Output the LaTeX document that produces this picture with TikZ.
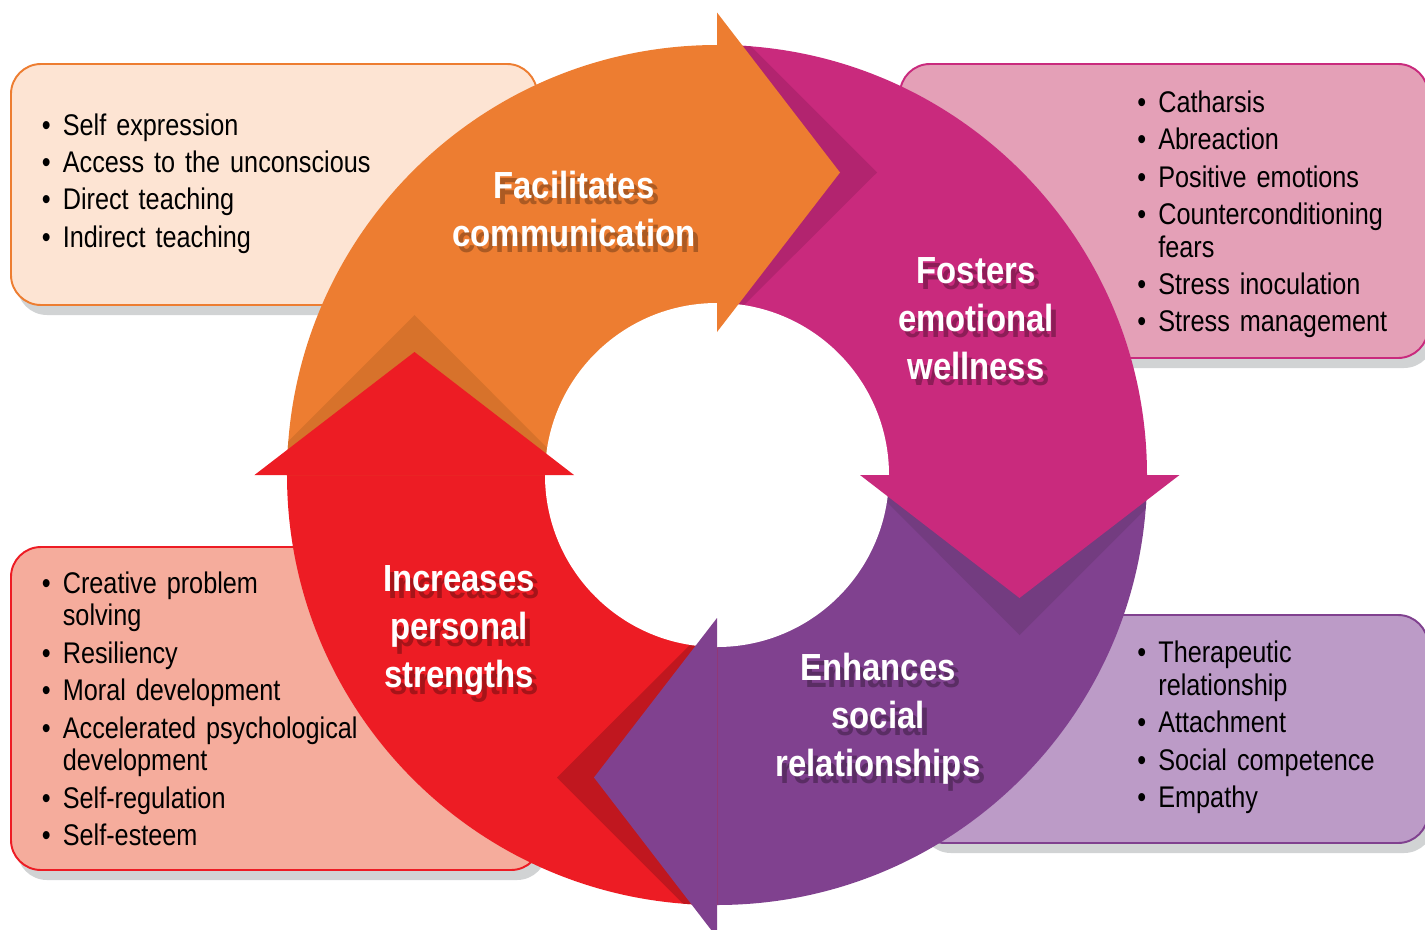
\documentclass[tikz,border=0pt]{standalone}
\usepackage{fontspec}
\setmainfont{Liberation Sans}[FakeStretch=0.845]
\newfontfamily\titlefont{Liberation Sans}[FakeStretch=0.87]
\usepackage{tikz}
\usetikzlibrary{calc}

\definecolor{orangeseg}{HTML}{ED7D31}
\definecolor{magentaseg}{HTML}{C92A7D}
\definecolor{purpleseg}{HTML}{80418F}
\definecolor{redseg}{HTML}{ED1C24}
\definecolor{orangedark}{HTML}{D7722B}
\definecolor{magentadark}{HTML}{B2246F}
\definecolor{purpledark}{HTML}{733C80}
\definecolor{reddark}{HTML}{C0171F}
\definecolor{orangebox}{HTML}{FDE4D3}
\definecolor{magentabox}{HTML}{E4A0B7}
\definecolor{purplebox}{HTML}{BC9BC7}
\definecolor{redbox}{HTML}{F5AC9C}
\definecolor{boxshadow}{HTML}{D1D3D4}

\newcommand{\bul}[1]{\makebox[0.42cm][l]{\textbullet}#1}
\newcommand{\cont}[1]{\hspace*{0.42cm}#1}

\begin{document}
\begin{tikzpicture}
  \tikzstyle{infobox}=[rounded corners=0.6cm,line width=1.1pt]
  \tikzstyle{boxshade}=[fill=boxshadow,rounded corners=0.6cm]
  \tikzstyle{listtext}=[anchor=base west,inner sep=0pt,text width=7cm,align=left,
    font=\fontsize{17}{18.5}\selectfont]
  \tikzstyle{steptitle}=[anchor=base,inner sep=0pt,text width=6cm,align=center,
    font=\titlefont\bfseries\fontsize{21.5}{27.3}\selectfont]

  \useasboundingbox (-14.34,-9.08) rectangle (14.16,9.5);

  % boxes behind the ring
  \fill[boxshade] (-14.0,8.02) rectangle (-3.48,3.2);
  \fill[boxshade] (3.78,8.02) rectangle (14.34,2.14);
  \fill[boxshade] (4.08,-3.0) rectangle (14.34,-7.56);
  \fill[boxshade] (-14.0,-1.64) rectangle (-3.4,-8.1);

  \filldraw[infobox,fill=orangebox,draw=orangeseg] (-14.12,8.22) rectangle (-3.6,3.4);
  \filldraw[infobox,fill=magentabox,draw=magentaseg] (3.66,8.22) rectangle (14.22,2.34);
  \filldraw[infobox,fill=purplebox,draw=purpleseg] (3.96,-2.8) rectangle (14.22,-7.36);
  \filldraw[infobox,fill=redbox,draw=redseg] (-14.12,-1.44) rectangle (-3.52,-7.9);

  \node[listtext] (comm-list) at (-13.51,6.8)
    {\bul{Self expression}\\[2.8pt]\bul{Access to the unconscious}\\[2.8pt]
     \bul{Direct teaching}\\[2.8pt]\bul{Indirect teaching}};
  \node[listtext] (wellness-list) at (8.4,7.254)
    {\bul{Catharsis}\\[2.8pt]\bul{Abreaction}\\[2.8pt]\bul{Positive emotions}\\[2.8pt]
     \bul{Counterconditioning}\\\cont{fears}\\[2.8pt]\bul{Stress inoculation}\\[2.8pt]
     \bul{Stress management}};
  \node[listtext] (social-list) at (8.4,-3.754)
    {\bul{Therapeutic}\\\cont{relationship}\\[2.8pt]\bul{Attachment}\\[2.8pt]
     \bul{Social competence}\\[2.8pt]\bul{Empathy}};
  \node[listtext] (strength-list) at (-13.51,-2.366)
    {\bul{Creative problem}\\\cont{solving}\\[2.8pt]\bul{Resiliency}\\[2.8pt]
     \bul{Moral development}\\[2.8pt]\bul{Accelerated psychological}\\\cont{development}\\[2.8pt]
     \bul{Self-regulation}\\[2.8pt]\bul{Self-esteem}};

  % ring quarters
  \foreach \a/\col in {90/orangeseg,0/magentaseg,-90/purpleseg,180/redseg}
    \fill[\col] (0,0) -- (\a:8.6) arc[start angle=\a,end angle=\a+90,radius=8.6] -- cycle;

  % dark wedge under each head
  \begin{scope}
    \clip (0,0) circle (8.6);
    \foreach \a/\col in {90/magentadark,0/purpledark,-90/reddark,180/orangedark}
      \fill[\col] (\a:2.86) -- ($(\a:6.05)+(\a-90:3.2)$) -- (\a:9.25) -- cycle;
  \end{scope}
  \fill[white] (0,0) circle (3.44);

  % heads
  \foreach \a/\col in {90/orangeseg,0/magentaseg,-90/purpleseg,180/redseg}
    \fill[\col] (\a:2.86) -- ($(\a:6.05)+(\a-90:2.46)$) -- (\a:9.25) -- cycle;

  % titles
  \node[steptitle,text=orangeseg!72!black] (comm-shade) at (-2.76,5.404) {Facilitates\\communication};
  \node[steptitle,text=white] (comm) at (-2.86,5.534) {Facilitates\\communication};
  \node[steptitle,text=magentaseg!70!black] (wellness-shade) at (5.28,3.704) {Fosters\\emotional\\wellness};
  \node[steptitle,text=white] (wellness) at (5.18,3.834) {Fosters\\emotional\\wellness};
  \node[steptitle,text=purpleseg!70!black] (social-shade) at (3.32,-4.244) {Enhances\\social\\relationships};
  \node[steptitle,text=white] (social) at (3.22,-4.114) {Enhances\\social\\relationships};
  \node[steptitle,text=redseg!70!black] (strength-shade) at (-5.06,-2.464) {Increases\\personal\\strengths};
  \node[steptitle,text=white] (strength) at (-5.16,-2.334) {Increases\\personal\\strengths};
\end{tikzpicture}
\end{document}
